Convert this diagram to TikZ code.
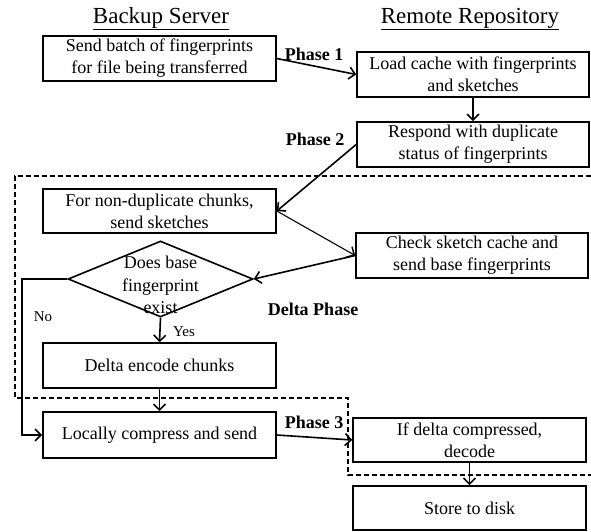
\documentclass[tikz,border=0pt]{standalone}
\usepackage{fontspec}
\setmainfont{Liberation Serif}
\usetikzlibrary{arrows.meta,shapes.geometric}

\tikzset{
  procbox/.style={draw, line width=1.6pt, minimum width=233pt, minimum height=45pt,
    inner sep=0pt, align=center, font=\fontsize{18}{22}\selectfont},
  decision/.style={diamond, draw, line width=1.6pt, minimum width=185pt,
    minimum height=76pt, inner sep=0pt, aspect=2.4},
  flow/.style={line width=1.6pt, -{Straight Barb[length=6pt,width=12pt]}},
  thinflow/.style={line width=1.1pt, -{Straight Barb[length=6pt,width=12pt,line width=1.5pt]}},
  phaselabel/.style={anchor=base, font=\fontsize{18}{22}\selectfont\bfseries, inner sep=0pt},
  sidetitle/.style={anchor=base, font=\fontsize{23}{26}\selectfont, inner sep=0pt},
  branchlabel/.style={anchor=base, font=\fontsize{15}{18}\selectfont, inner sep=0pt},
  region/.style={dashed, dash pattern=on 5pt off 3pt, line width=1.6pt}
}

\begin{document}
\begin{tikzpicture}[x=1pt, y=-1pt]
  \useasboundingbox (0,0) rectangle (591,531);

  % column headings
  \node[sidetitle] (hbackup) at (161,23) {\underline{Backup Server}};
  \node[sidetitle] (hremote) at (470,23) {\underline{Remote Repository}};

  % phase regions
  \draw[region] (591,176) -- (15,176) -- (15,398) -- (348,398) -- (348,475) -- (591,475);

  % process steps
  \node[procbox] (batch)  at (159.5,58.5) {Send batch of fingerprints\\for file being transferred};
  \node[procbox, minimum width=232pt] (load)   at (473,74.5)  {Load cache with fingerprints\\and sketches};
  \node[procbox, minimum width=232pt] (respond) at (473,144.5) {Respond with duplicate\\status of fingerprints};
  \node[procbox, minimum height=44pt] (nondup) at (159.5,211) {For non-duplicate chunks,\\send sketches};
  \node[procbox, minimum width=232pt] (check)  at (472,255.5) {Check sketch cache and\\send base fingerprints};
  \node[decision] (base) at (160.5,279) {};
  \node[align=center, inner sep=0pt, font=\fontsize{18}{22.5}\selectfont] (basetext) at (160.5,285) {Does base\\fingerprint\\exist};
  \node[procbox] (encode) at (159.5,365.5) {Delta encode chunks};
  \node[procbox, minimum height=46pt] (compress) at (159.5,435) {Locally compress and send};
  \node[procbox, minimum height=44pt] (decode) at (469.5,440) {If delta compressed,\\decode};
  \node[procbox, minimum height=44pt] (store)  at (469.5,508) {Store to disk};

  % phase labels
  \node[phaselabel] (p1) at (314,60)  {Phase 1};
  \node[phaselabel] (p2) at (315,145) {Phase 2};
  \node[phaselabel] (pd) at (313,315) {Delta Phase};
  \node[phaselabel] (p3) at (314,428) {Phase 3};

  % connectors
  \draw[flow] (batch.east) -- (load.west);
  \draw[flow] (load.south) -- (respond.north);
  \draw[flow] (respond.west) -- (nondup.east);
  \draw[thinflow] (nondup.east) -- (check.west);
  \draw[flow] (check.west) -- (base.east);
  \draw[flow] (base.south) -- (encode.north);
  \coordinate (nobend) at (22,279);
  \draw[flow] (base.west) -- (nobend) |- (compress.west);
  \draw[flow] (encode.south) -- (compress.north);
  \draw[flow] (compress.east) -- (decode.west);
  \draw[flow] (decode.south) -- (store.north);

  % branch labels
  \node[branchlabel] (yes) at (184,336) {Yes};
  \node[branchlabel] (no)  at (43,321) {No};
\end{tikzpicture}
\end{document}
